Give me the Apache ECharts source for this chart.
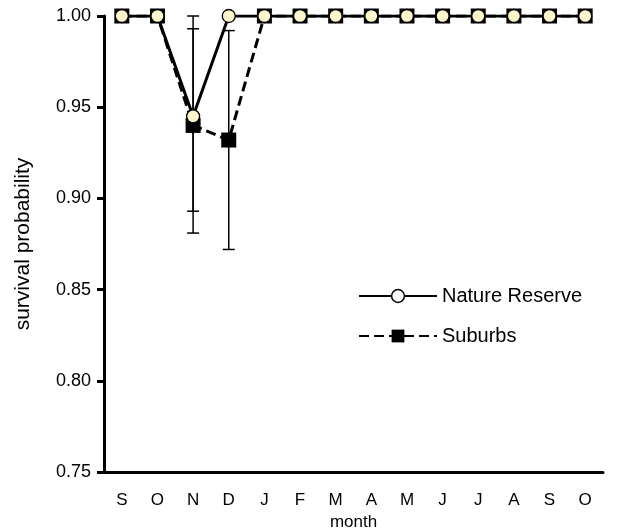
<!DOCTYPE html>
<html>
<head>
<meta charset="utf-8">
<script src="https://cdn.jsdelivr.net/npm/echarts@6/dist/echarts.min.js"></script>
<style>html,body{margin:0;padding:0;background:#fff}#c{width:622px;height:532px}</style>
</head>
<body>
<div id="c"></div>
<script>
var months = ['S','O','N','D','J','F','M','A','M','J','J','A','S','O'];
var yTicks = [0.75, 0.80, 0.85, 0.90, 0.95, 1.00];
var reserveValues = [1, 1, 0.945, 1, 1, 1, 1, 1, 1, 1, 1, 1, 1, 1];
var suburbsValues = [1, 1, 0.940, 0.932, 1, 1, 1, 1, 1, 1, 1, 1, 1, 1];
var reserveErrLow  = [null, null, 0.893, null, null, null, null, null, null, null, null, null, null, null];
var reserveErrHigh = [null, null, 0.993, null, null, null, null, null, null, null, null, null, null, null];
var suburbsErrLow  = [null, null, 0.881, 0.872, null, null, null, null, null, null, null, null, null, null];
var suburbsErrHigh = [null, null, 1.000, 0.992, null, null, null, null, null, null, null, null, null, null];

function errData(lo, hi) {
  var out = [];
  for (var i = 0; i < lo.length; i++) {
    if (lo[i] != null) out.push([i, lo[i], hi[i]]);
  }
  return out;
}
function errRender(params, api) {
  var x = api.value(0);
  var lo = api.coord([x, api.value(1)]);
  var hi = api.coord([x, api.value(2)]);
  var w = 6;
  var st = {stroke: '#000', lineWidth: 1.5};
  return {
    type: 'group',
    children: [
      {type: 'line', shape: {x1: lo[0], y1: lo[1], x2: hi[0], y2: hi[1]}, style: st},
      {type: 'line', shape: {x1: lo[0]-w, y1: lo[1], x2: lo[0]+w, y2: lo[1]}, style: st},
      {type: 'line', shape: {x1: hi[0]-w, y1: hi[1], x2: hi[0]+w, y2: hi[1]}, style: st}
    ]
  };
}

var chart = echarts.init(document.getElementById('c'));
var font = 'Liberation Sans, Arial, sans-serif';
chart.setOption({
  animation: false,
  grid: {left: 104, right: 19, top: 16, bottom: 60, containLabel: false, outerBoundsMode: 'none'},
  xAxis: {
    type: 'category',
    data: months,
    boundaryGap: true,
    name: 'month',
    nameLocation: 'middle',
    nameGap: 41,
    nameTextStyle: {fontFamily: font, fontSize: 17, color: '#000'},
    axisLine: {lineStyle: {color: '#000', width: 3}},
    axisTick: {interval: 0, length: 8, lineStyle: {color: '#000', width: 3}},
    axisLabel: {interval: 0, fontFamily: font, fontSize: 17, color: '#000', margin: 20},
    splitLine: {show: false}
  },
  yAxis: {
    type: 'value',
    min: yTicks[0],
    max: yTicks[yTicks.length - 1],
    interval: 0.05,
    name: 'survival probability',
    nameLocation: 'middle',
    nameGap: 70,
    nameRotate: 90,
    nameTextStyle: {fontFamily: font, fontSize: 21, color: '#000'},
    axisLine: {show: true, lineStyle: {color: '#000', width: 3}},
    axisTick: {show: true, length: 7, lineStyle: {color: '#000', width: 3}},
    axisLabel: {fontFamily: font, fontSize: 18, color: '#000', margin: 13,
      formatter: function (v) { return v.toFixed(2); }},
    splitLine: {show: false}
  },
  legend: {
    orient: 'vertical',
    left: 353,
    top: 281,
    itemWidth: 78,
    itemHeight: 16,
    itemGap: 20,
    textStyle: {fontFamily: font, fontSize: 20, color: '#000'},
    data: [
      {name: 'Nature Reserve', itemStyle: {color: '#fff', borderColor: '#000', borderWidth: 1.5}},
      {name: 'Suburbs', itemStyle: {color: '#000'}}
    ]
  },
  series: [
    {
      type: 'custom', name: 'errS', data: errData(suburbsErrLow, suburbsErrHigh),
      renderItem: errRender, z: 1, silent: true
    },
    {
      type: 'custom', name: 'errR', data: errData(reserveErrLow, reserveErrHigh),
      renderItem: errRender, z: 1, silent: true
    },
    {
      type: 'line', name: 'Suburbs', data: suburbsValues, z: 3,
      symbol: 'rect', symbolSize: 15, showAllSymbol: true,
      lineStyle: {color: '#000', width: 3, type: [10, 5]},
      itemStyle: {color: '#000'}
    },
    {
      type: 'line', name: 'Nature Reserve', data: reserveValues, z: 4,
      symbol: 'circle', symbolSize: 13, showAllSymbol: true,
      lineStyle: {color: '#000', width: 3},
      itemStyle: {color: '#fdf6cc', borderColor: '#000', borderWidth: 1.3, opacity: 1}
    }
  ]
});
</script>
</body>
</html>
